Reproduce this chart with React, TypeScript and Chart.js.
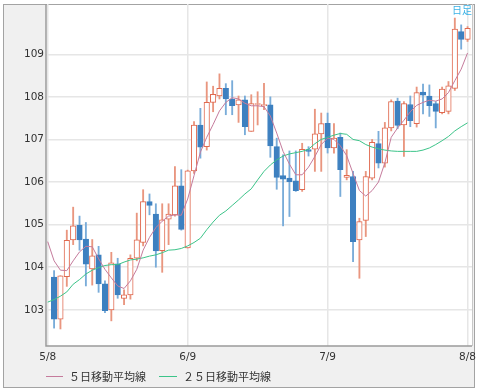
import React, { useEffect, useRef } from 'react';
import { Chart, registerables } from 'chart.js';

Chart.register(...registerables);

// X positions are trading-day indices: 0 = 5/8, 22 = 6/9, 44 = 7/9, 66 = 8/8
const tickIndex = [0, 22, 44, 66];
const tickLabels = ['5/8', '6/9', '7/9', '8/8'];
const yTicks = [103, 104, 105, 106, 107, 108, 109];

// Candles start on day index 1 (5/9)
const firstCandle = 1;
const opens = [
  103.77, 102.78, 103.78, 104.64, 104.99, 104.66, 103.96, 104.29, 103.61, 103.0,
  104.08, 103.27, 103.35, 104.21, 104.58, 105.54, 105.25, 104.39, 105.13, 105.23,
  105.91, 104.45, 106.26, 107.34, 106.83, 107.87, 108.02, 108.2, 107.95, 107.81,
  107.93, 107.19, 107.82, 107.79, 107.81, 106.83, 106.15, 106.09, 106.03, 105.82,
  106.76, 106.77, 107.13, 107.38, 106.8, 107.05, 106.11, 106.13, 104.64, 105.1,
  106.09, 106.9, 106.44, 107.27, 107.9, 107.34, 107.82, 107.37, 108.11, 108.02,
  107.84, 107.63, 107.66, 108.2, 109.53, 109.35,
];
const highs = [
  103.92, 103.8, 104.87, 105.41, 105.2, 105.05, 104.65, 104.49, 103.68, 104.35,
  104.21, 103.47, 104.29, 105.27, 105.82, 105.72, 105.49, 105.49, 105.49, 106.36,
  106.29, 106.28, 107.42, 107.73, 108.35, 108.25, 108.54, 108.31, 108.38, 108.02,
  108.02, 108.05, 108.12, 108.32, 108.0, 107.03, 106.64, 106.73, 106.73, 106.91,
  106.83, 107.71, 107.62, 107.62, 107.37, 107.15, 106.76, 106.25, 105.15, 106.25,
  107.0, 107.19, 107.4, 107.93, 107.97, 107.89, 108.02, 108.23, 108.3, 108.28,
  107.89, 108.23, 108.36, 109.85, 109.69, 109.65,
];
const lows = [
  102.57, 102.55, 103.55, 104.53, 104.4, 103.56, 103.58, 103.41, 102.93, 102.74,
  103.27, 103.12, 103.25, 104.15, 104.5, 105.23, 104.0, 103.88, 104.53, 105.2,
  104.87, 104.45, 106.2, 106.56, 106.75, 107.65, 107.95, 107.58, 107.58, 107.4,
  107.11, 107.19, 107.34, 107.7, 106.58, 105.83, 104.97, 105.19, 105.78, 105.78,
  106.61, 106.25, 106.25, 106.68, 106.68, 105.66, 106.05, 104.13, 103.74, 104.72,
  106.05, 106.33, 106.35, 107.2, 107.25, 106.6, 107.3, 107.29, 107.6, 107.54,
  107.27, 107.6, 107.6, 108.15, 109.12, 109.3,
];
const closes = [
  102.78, 103.8, 104.63, 104.97, 104.64, 104.07, 104.27, 103.61, 102.98, 104.1,
  103.35, 103.35, 104.21, 104.64, 105.54, 105.45, 104.38, 105.11, 105.25, 105.91,
  104.89, 106.26, 107.34, 106.82, 107.87, 108.06, 108.2, 107.95, 107.79, 107.93,
  107.3, 107.84, 107.84, 107.82, 106.85, 106.11, 106.07, 106.01, 105.8, 106.77,
  106.72, 107.13, 107.37, 106.8, 107.03, 106.29, 106.16, 104.6, 105.07, 106.13,
  106.93, 106.44, 107.27, 107.89, 107.33, 107.84, 107.44, 108.1, 108.04, 107.79,
  107.66, 108.18, 108.26, 109.59, 109.35, 109.61,
];

// Moving averages, read per day index starting at 0 (5/8)
const ma5 = [
  104.6, 104.15, 103.93, 103.92, 104.15, 104.36, 104.49, 104.48, 104.2, 103.95,
  103.75, 103.56, 103.5, 103.68, 103.95, 104.4, 104.7, 104.93, 105.08, 105.2,
  105.23, 105.22, 105.6, 106.15, 106.7, 107.05, 107.35, 107.67, 107.87, 107.98,
  107.95, 107.85, 107.79, 107.79, 107.77, 107.55, 107.15, 106.72, 106.42, 106.17,
  106.17, 106.35, 106.6, 106.88, 107.03, 107.0, 106.85, 106.62, 106.2, 105.8,
  105.67, 105.8, 106.0, 106.45, 107.05, 107.27, 107.45, 107.65, 107.8, 107.87,
  107.92, 107.9, 107.95, 108.1, 108.38, 108.65, 109.03,
];
const ma25 = [
  103.18, 103.24, 103.32, 103.42, 103.6, 103.71, 103.84, 103.93, 103.99, 104.04,
  104.06, 104.06, 104.12, 104.17, 104.19, 104.22, 104.26, 104.29, 104.34, 104.4,
  104.41, 104.44, 104.5, 104.58, 104.68, 104.88, 105.06, 105.22, 105.32, 105.45,
  105.58, 105.72, 105.84, 106.05, 106.25, 106.4, 106.52, 106.61, 106.66, 106.69,
  106.72, 106.77, 106.9, 107.0, 107.05, 107.1, 107.14, 107.12, 107.0, 106.97,
  106.88, 106.82, 106.78, 106.75, 106.73, 106.72, 106.72, 106.72, 106.72, 106.75,
  106.8, 106.88, 106.97, 107.07, 107.2, 107.3, 107.39,
];

const legendNames = ['５日移動平均線', '２５日移動平均線'];
const periodLabel = '日足';

const UP = '#e0694f';
const UP_WICK = '#e9967f';
const DOWN = '#3d80c0';
const DOWN_WICK = '#79acd9';
const MA5_COLOR = '#c57b9c';
const MA25_COLOR = '#3cc489';

export default function App() {
  const ref = useRef<HTMLCanvasElement | null>(null);

  useEffect(() => {
    if (!ref.current) return;
    const up = opens.map((o, i) => closes[i] >= o);
    const wickData = highs.map((h, i) => ({ x: i + firstCandle, y: [lows[i], h] }));
    const bodyData = opens.map((o, i) => ({ x: i + firstCandle, y: [o, closes[i]] }));
    const ma5Data = ma5.map((v, i) => ({ x: i, y: v }));
    const ma25Data = ma25.map((v, i) => ({ x: i, y: v }));

    const framePlugin = {
      id: 'frame',
      beforeDraw(chart: any) {
        const ctx = chart.ctx;
        const a = chart.chartArea;
        ctx.save();
        ctx.fillStyle = '#f0f0f0';
        ctx.fillRect(3, 4, 472, 384);
        ctx.strokeStyle = '#a3a3a3';
        ctx.lineWidth = 1;
        ctx.strokeRect(3.5, 4.5, 471, 383);
        ctx.fillStyle = '#ffffff';
        ctx.fillRect(a.left, a.top + 1, a.right - a.left, a.bottom - a.top - 1);
        ctx.restore();
      },
      afterDraw(chart: any) {
        const ctx = chart.ctx;
        const a = chart.chartArea;
        ctx.save();
        ctx.strokeStyle = '#9a9a9a';
        ctx.lineWidth = 1.5;
        ctx.beginPath();
        ctx.moveTo(a.left, a.top);
        ctx.lineTo(a.left, a.bottom);
        ctx.lineTo(a.right, a.bottom);
        ctx.stroke();
        ctx.strokeStyle = '#c8c8c8';
        ctx.lineWidth = 1;
        ctx.beginPath();
        ctx.moveTo(a.right + 0.5, a.top);
        ctx.lineTo(a.right + 0.5, a.bottom);
        ctx.stroke();

        // legend
        const ly = 376.5;
        ctx.font = '11px "Noto Sans CJK JP"';
        ctx.textBaseline = 'middle';
        ctx.textAlign = 'left';
        ctx.lineWidth = 1;
        ctx.strokeStyle = MA5_COLOR;
        ctx.beginPath();
        ctx.moveTo(46, ly);
        ctx.lineTo(63, ly);
        ctx.stroke();
        ctx.fillStyle = '#333333';
        ctx.fillText(legendNames[0], 69, ly);
        ctx.strokeStyle = MA25_COLOR;
        ctx.beginPath();
        ctx.moveTo(159, ly);
        ctx.lineTo(177, ly);
        ctx.stroke();
        ctx.fillText(legendNames[1], 183, ly);

        // period label
        ctx.font = '10px "Noto Sans CJK JP"';
        ctx.fillStyle = '#3ab2e6';
        ctx.textAlign = 'right';
        ctx.fillText(periodLabel, 472, 10.5);
        ctx.restore();
      },
    };

    const tickFont = { family: 'DejaVu Sans', size: 10.5 };

    const chart = new Chart(ref.current, {
      type: 'bar',
      data: {
        datasets: [
          {
            type: 'line',
            label: legendNames[0],
            data: ma5Data as any,
            borderColor: MA5_COLOR,
            borderWidth: 1,
            pointRadius: 0,
            tension: 0,
            order: 0,
          },
          {
            type: 'line',
            label: legendNames[1],
            data: ma25Data as any,
            borderColor: MA25_COLOR,
            borderWidth: 1,
            pointRadius: 0,
            tension: 0,
            order: 0,
          },
          {
            type: 'bar',
            label: 'body',
            data: bodyData as any,
            barThickness: 5.5,
            grouped: false,
            minBarLength: 1,
            borderWidth: 1,
            borderSkipped: false,
            backgroundColor: (c: any) => (up[c.dataIndex] ? '#ffffff' : DOWN),
            borderColor: (c: any) => (up[c.dataIndex] ? UP : DOWN),
            order: 1,
          } as any,
          {
            type: 'bar',
            label: 'wick',
            data: wickData as any,
            barThickness: 1.2,
            grouped: false,
            borderWidth: 0,
            backgroundColor: (c: any) => (up[c.dataIndex] ? UP_WICK : DOWN_WICK),
            order: 2,
          } as any,
        ],
      },
      options: {
        responsive: false,
        animation: false,
        devicePixelRatio: 1,
        layout: { padding: { left: 0, top: 4, right: 6, bottom: 0 } },
        plugins: {
          legend: { display: false },
          tooltip: { enabled: false },
        },
        scales: {
          x: {
            type: 'linear',
            min: -0.27,
            max: 66.7,
            offset: false,
            afterBuildTicks: (s: any) => {
              s.ticks = tickIndex.map((v) => ({ value: v }));
            },
            afterFit: (s: any) => {
              s.height = 45;
              s.paddingLeft = 0;
              s.paddingRight = 0;
            },
            ticks: {
              autoSkip: false,
              maxRotation: 0,
              padding: 5,
              color: '#333333',
              font: tickFont,
              callback: (v: any) => {
                const k = tickIndex.indexOf(Number(v));
                return k >= 0 ? tickLabels[k] : '';
              },
            },
            grid: { color: '#e6e6e6', lineWidth: 1.5, drawTicks: false, offset: false },
            border: { display: false },
          },
          y: {
            type: 'linear',
            min: 102.15,
            max: 110.18,
            afterBuildTicks: (s: any) => {
              s.ticks = yTicks.map((v) => ({ value: v }));
            },
            afterFit: (s: any) => {
              s.width = 46;
              s.paddingTop = 0;
              s.paddingBottom = 0;
            },
            ticks: { padding: 2, color: '#333333', font: tickFont },
            grid: { color: '#e6e6e6', lineWidth: 1.5, drawTicks: false },
            border: { display: false },
          },
        },
      } as any,
      plugins: [framePlugin],
    });
    return () => chart.destroy();
  }, []);

  return (
    <div style={{ position: 'absolute', left: 0, top: 0, width: 478, height: 391 }}>
      <canvas ref={ref} width={478} height={391} style={{ display: 'block', width: 478, height: 391 }} />
    </div>
  );
}
